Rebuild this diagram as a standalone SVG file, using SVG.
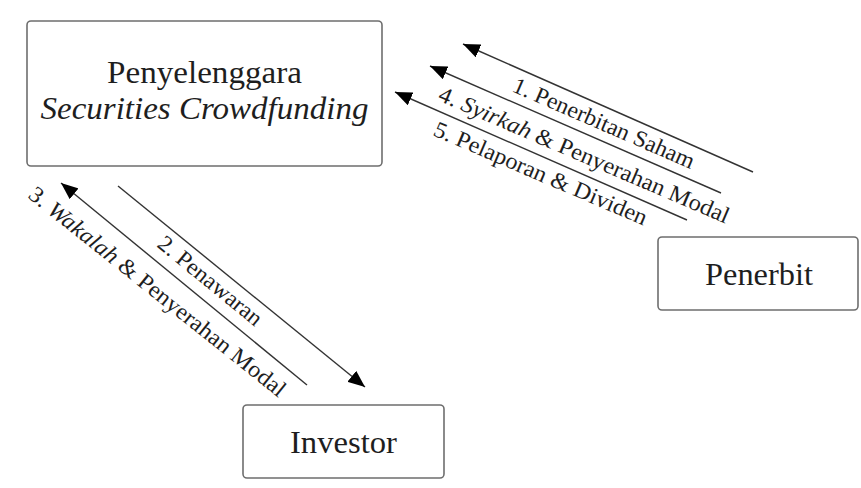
<svg xmlns="http://www.w3.org/2000/svg" width="861" height="488" viewBox="0 0 861 488">
<style>
.box{fill:#fff;stroke:#6e6e6e;stroke-width:1.6}
.t{font-family:"Liberation Serif","Times New Roman",serif;fill:#1e1e1e}
.big{font-size:31px}
.lbl{font-size:23px}
.ln{stroke:#333;stroke-width:1.4;fill:none;marker-end:url(#ah)}
</style>
<defs>
<marker id="ah" markerUnits="userSpaceOnUse" markerWidth="18" markerHeight="14" viewBox="0 0 18 14" refX="17" refY="7" orient="auto">
<path d="M0,0 L17,7 L0,14 z" fill="#000"/>
</marker>
</defs>
<rect width="861" height="488" fill="#fff"/>
<g id="penyelenggara">
<rect class="box" x="27" y="21" width="355" height="145" rx="4"/>
<text class="t big" x="204.5" y="83" text-anchor="middle" textLength="195" lengthAdjust="spacingAndGlyphs">Penyelenggara</text>
<text class="t big" x="204.5" y="119" text-anchor="middle" font-style="italic" textLength="328" lengthAdjust="spacingAndGlyphs">Securities Crowdfunding</text>
</g>
<g id="penerbit">
<rect class="box" x="658" y="237" width="200" height="73" rx="4"/>
<text class="t big" x="759" y="285" text-anchor="middle" font-size="32" textLength="108" lengthAdjust="spacingAndGlyphs">Penerbit</text>
</g>
<g id="investor">
<rect class="box" x="243" y="405" width="201" height="73" rx="4"/>
<text class="t big" x="343.5" y="453" text-anchor="middle" font-size="32" textLength="107" lengthAdjust="spacingAndGlyphs">Investor</text>
</g>
<g id="connectors">
<line class="ln" x1="753" y1="172" x2="463" y2="44"/>
<line class="ln" x1="721" y1="193" x2="430" y2="66"/>
<line class="ln" x1="687" y1="220" x2="395" y2="92"/>
<line class="ln" x1="118" y1="186" x2="365" y2="387"/>
<line class="ln" x1="307" y1="385" x2="61" y2="183"/>
<text class="t lbl" transform="translate(511,91) rotate(23.5)" textLength="196" lengthAdjust="spacingAndGlyphs">1. Penerbitan Saham</text>
<text class="t lbl" transform="translate(437,100) rotate(23.2)" textLength="314" lengthAdjust="spacingAndGlyphs">4. <tspan font-style="italic">Syirkah</tspan> &amp; Penyerahan Modal</text>
<text class="t lbl" transform="translate(432,135) rotate(23.2)" textLength="230" lengthAdjust="spacingAndGlyphs">5. Pelaporan &amp; Dividen</text>
<text class="t lbl" transform="translate(156,246) rotate(39.3)" textLength="128" lengthAdjust="spacingAndGlyphs">2. Penawaran</text>
<text class="t lbl" transform="translate(27,197) rotate(38.6)" textLength="322" lengthAdjust="spacingAndGlyphs">3. <tspan font-style="italic">Wakalah</tspan> &amp; Penyerahan Modal</text>
</g>
</svg>
